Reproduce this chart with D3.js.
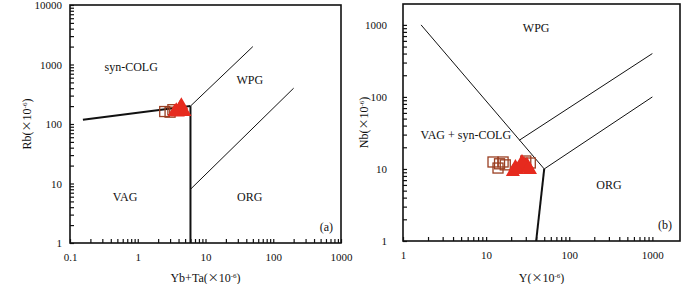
<!DOCTYPE html>
<html>
<head>
<meta charset="utf-8">
<script src="https://cdn.jsdelivr.net/npm/d3@7"></script>
<style>
body{margin:0;background:#fff;}
text{font-family:"Liberation Serif","Times New Roman",serif;fill:#111;}
</style>
</head>
<body>
<svg id="chart" width="700" height="284"></svg>
<script>
// (a) Yb+Ta vs Rb
var aSquares = [[2.5,162],[3.3,174],[3.0,158]];
var aTriangles = [[3.7,170],[4.4,205],[4.6,172],[3.9,156],[4.2,185],[3.5,160],[4.9,160]];
var aThick = [[[0.155,118],[6,200]],[[6,200],[6,1]]];
var aThin = [[[6,200],[50,2000]],[[6,8],[200,400]]];
var aLabels = [["syn-COLG",0.8,900],["WPG",45,550],["VAG",0.65,6],["ORG",45,6]];

// (b) Y vs Nb
var bSquares = [[12.1,12.5],[13.9,10.3],[16,12.5],[17,11.4],[14.5,11.8],[30,12.9],[34,12.1]];
var bTriangles = [[21,9.1],[25.5,10.3],[31,11.4],[33.7,9.7],[24,9.7],[28.6,11.7],[22.5,10.6],[27,12.5],[32,10.2]];
var bThick = [[[50,10],[40,1]]];
var bThin = [[[1.65,1000],[50,10]],[[25,25],[1000,400]],[[50,10],[1000,100]]];
var bLabels = [["WPG",40,900],["VAG + syn-COLG",5.7,30],["ORG",300,6]];

var svg = d3.select("#chart");

function makePlot(cfg){
  var xScale = d3.scaleLog().domain(cfg.xd).range([cfg.left,cfg.right]);
  var yScale = d3.scaleLog().domain(cfg.yd).range([cfg.bottom,cfg.top]);
  var g = svg.append("g");

  var line = d3.line()
               .x(function(d){return xScale(d[0]);})
               .y(function(d){return yScale(d[1]);});

  g.selectAll("path.thin")
   .data(cfg.thin).enter().append("path")
   .attr("d",line).attr("fill","none").attr("stroke","#111").attr("stroke-width",1);
  g.selectAll("path.thick")
   .data(cfg.thick).enter().append("path")
   .attr("d",line).attr("fill","none").attr("stroke","#111").attr("stroke-width",2);

  // axes with inner ticks
  var xTicks = xScale.ticks().filter(function(v){return v<=cfg.xLast;});
  var yTicks = yScale.ticks();
  var isMajor = function(v){return Math.abs(Math.log10(v)%1)<1e-9;};
  var xAxis = d3.axisBottom(xScale).tickValues(xTicks).tickSize(-4).tickPadding(cfg.xPad)
                .tickFormat(function(v){return isMajor(v) ? d3.format("~g")(v) : "";});
  var yAxis = d3.axisLeft(yScale).tickValues(yTicks).tickSize(-4).tickPadding(cfg.yPad)
                .tickFormat(function(v){return isMajor(v) ? d3.format("~g")(v) : "";});
  var xg = g.append("g").attr("transform","translate(0,"+cfg.bottom+")").call(xAxis);
  var yg = g.append("g").attr("transform","translate("+cfg.left+",0)").call(yAxis);
  [xg,yg].forEach(function(a){
    a.select(".domain").remove();
    a.selectAll("line").attr("stroke","#111").attr("stroke-width",1.2);
    a.selectAll("text").style("font-size","11px").style("font-family","Liberation Serif").attr("fill","#111");
  });

  g.append("rect")
   .attr("x",cfg.left).attr("y",cfg.top)
   .attr("width",cfg.right-cfg.left).attr("height",cfg.bottom-cfg.top)
   .attr("fill","none").attr("stroke","#111").attr("stroke-width",1.6);

  g.selectAll("text.zone")
   .data(cfg.labels).enter().append("text")
   .attr("x",function(d){return xScale(d[1]);})
   .attr("y",function(d){return yScale(d[2]);})
   .attr("text-anchor","middle").attr("dy","0.35em")
   .style("font-size","12px")
   .text(function(d){return d[0];});

  g.append("text").attr("x",cfg.right-8).attr("y",cfg.bottom-12)
   .attr("text-anchor","end").style("font-size","12px").text(cfg.tag);

  // samples
  g.selectAll("rect.sq")
   .data(cfg.squares).enter().append("rect")
   .attr("x",function(d){return xScale(d[0])-5;})
   .attr("y",function(d){return yScale(d[1])-5;})
   .attr("width",10).attr("height",10)
   .attr("fill","none").attr("stroke","#9a3f22").attr("stroke-width",1.3);
  g.selectAll("path.tri")
   .data(cfg.triangles).enter().append("path")
   .attr("d",d3.symbol().type(d3.symbolTriangle).size(85))
   .attr("transform",function(d){return "translate("+xScale(d[0])+","+yScale(d[1])+")";})
   .attr("fill","#e62a1e");

  // titles
  var xt = g.append("text").attr("x",(cfg.left+cfg.right)/2).attr("y",282)
            .attr("text-anchor","middle").style("font-size","12px");
  xt.append("tspan").text(cfg.xTitle+"(");
  xt.append("tspan").style("font-family","Noto Sans CJK SC").style("font-size","11px").text("×");
  xt.append("tspan").text("10");
  xt.append("tspan").attr("baseline-shift","super").style("font-size","7px").text("-6");
  xt.append("tspan").text(")");
  var yt = g.append("text")
            .attr("transform","translate("+cfg.yTitleX+","+((cfg.top+cfg.bottom)/2)+") rotate(-90)")
            .attr("text-anchor","middle").style("font-size","12px");
  yt.append("tspan").text(cfg.yTitle+"(");
  yt.append("tspan").style("font-family","Noto Sans CJK SC").style("font-size","11px").text("×");
  yt.append("tspan").text("10");
  yt.append("tspan").attr("baseline-shift","super").style("font-size","7px").text("-6");
  yt.append("tspan").text(")");
}

makePlot({xd:[0.1,1000],yd:[1,10000],left:70,right:341,top:5,bottom:243,xLast:1000,
          xPad:10,yPad:8,thin:aThin,thick:aThick,labels:aLabels,tag:"(a)",
          squares:aSquares,triangles:aTriangles,xTitle:"Yb+Ta",yTitle:"Rb",yTitleX:31});
makePlot({xd:[1,2150],yd:[1,1950],left:403,right:680,top:4,bottom:241,xLast:1000,
          xPad:10,yPad:16,thin:bThin,thick:bThick,labels:bLabels,tag:"(b)",
          squares:bSquares,triangles:bTriangles,xTitle:"Y",yTitle:"Nb",yTitleX:368});
</script>
</body>
</html>
